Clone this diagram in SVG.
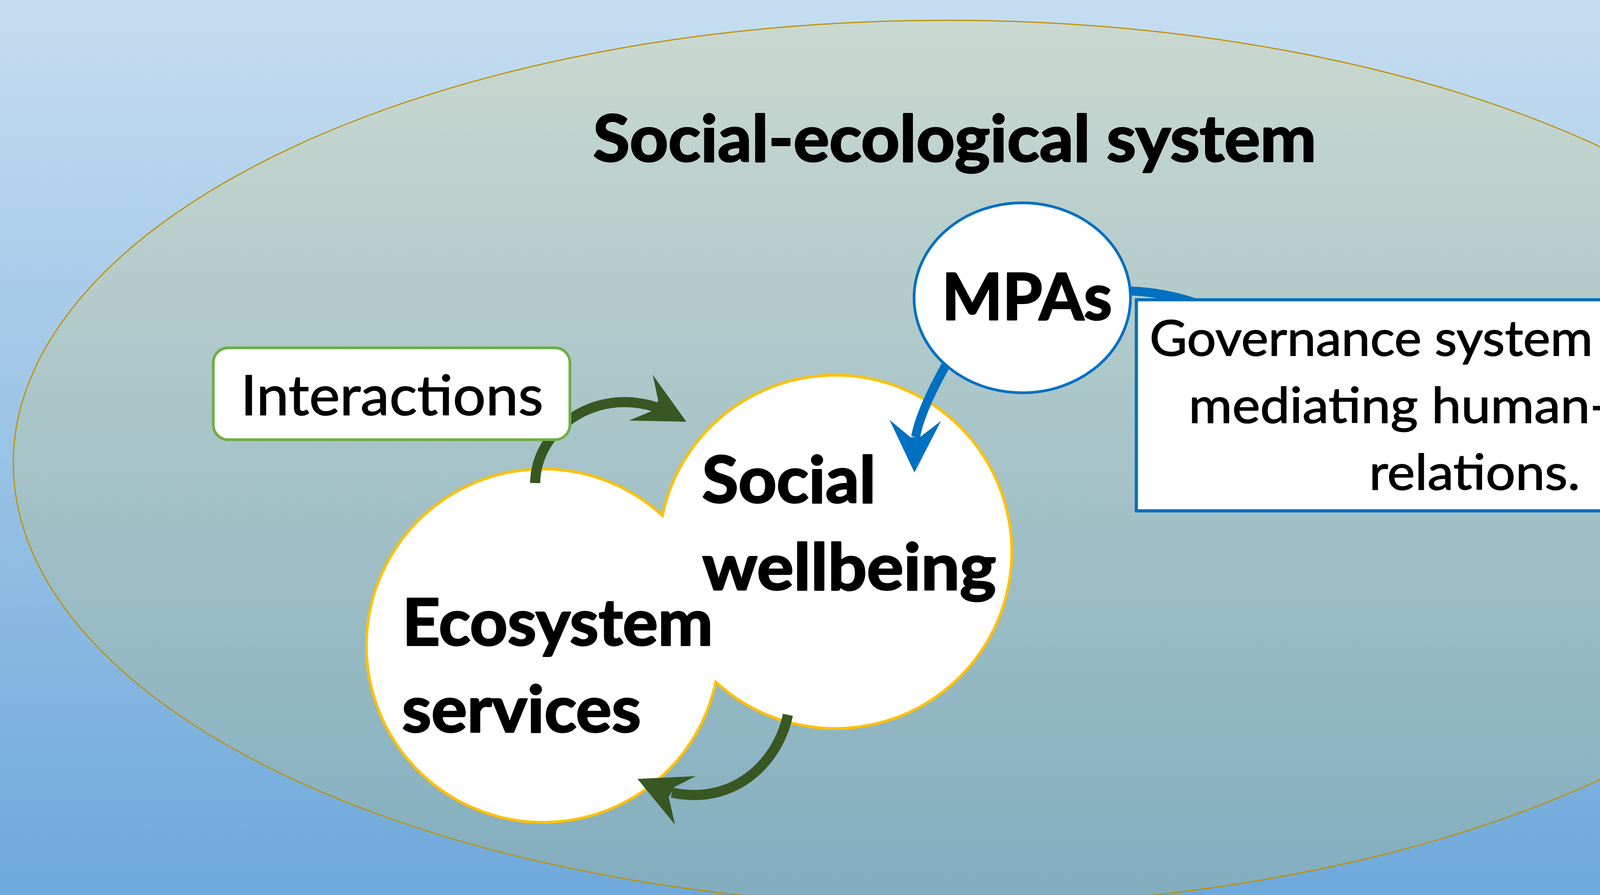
<svg xmlns="http://www.w3.org/2000/svg" width="4812" height="2290" viewBox="0 0 4812 2290">
  <defs>
    <linearGradient id="bg" x1="0" y1="0" x2="0" y2="2290" gradientUnits="userSpaceOnUse">
      <stop offset="0" stop-color="#c6ddf0"/>
      <stop offset="1" stop-color="#6ea9db"/>
    </linearGradient>
    <linearGradient id="ses" x1="0" y1="52" x2="0" y2="2318" gradientUnits="userSpaceOnUse">
      <stop offset="0" stop-color="#cad9d0"/>
      <stop offset="1" stop-color="#81adbf"/>
    </linearGradient>
    <style>
      .bold { font-family: Lato, "Open Sans", sans-serif; font-weight: 700; font-size: 165px; fill: #000; stroke: #000; stroke-width: 4; stroke-linejoin: round; }
      .reg { font-family: Lato, "Open Sans", sans-serif; font-weight: 400; fill: #000; stroke: #000; stroke-width: 2; stroke-linejoin: round; }
      .green { fill: none; stroke: #385723; stroke-width: 26; }
      .blue { fill: none; stroke: #0070c0; stroke-width: 23; }
      .greenhead { fill: #385723; }
      .bluehead { fill: #0070c0; }
    </style>
  </defs>

  <rect x="0" y="0" width="4812" height="2290" fill="url(#bg)"/>

  <g id="social-ecological-system">
    <ellipse cx="2424" cy="1185" rx="2390" ry="1133" fill="url(#ses)" stroke="#bf9000" stroke-width="3"/>
    <text class="bold" x="1518" y="413" textLength="1852" lengthAdjust="spacingAndGlyphs">Social-ecological system</text>
  </g>

  <g id="wellbeing-services-shape">
    <path d="M 1695.7 1319.1 A 452 452 0 1 1 1832.3 1744.9 A 452 452 0 1 1 1695.7 1319.1 Z" fill="#ffffff" stroke="#ffc000" stroke-width="7"/>
  </g>

  <g id="connectors">
    <path class="green" d="M 1370 1236 C 1372 1100 1520 990 1680 1042"/>
    <polygon class="greenhead" points="1671,959 1757,1079 1610,1076 1668,1052 1685,1025"/>
    <path class="green" d="M 2017 1829 C 1992 1950 1880 2062 1720 2028"/>
    <polygon class="greenhead" points="1781,1986 1632,1993 1728,2110 1712,2040 1726,2014"/>
    <path class="blue" d="M 2426 926 Q 2356 1050 2344 1118"/>
    <polygon class="bluehead" points="2277,1074 2341,1209 2409,1077 2357,1117 2331,1119"/>
    <path class="blue" d="M 2870 744 Q 2990 744 3100 790"/>
  </g>

  <g id="ecosystem-services">
    <text class="bold" x="1030" y="1651" textLength="795" lengthAdjust="spacingAndGlyphs">Ecosystem</text>
    <text class="bold" x="1029" y="1873" textLength="612" lengthAdjust="spacingAndGlyphs">services</text>
  </g>

  <g id="social-wellbeing">
    <text class="bold" x="1797" y="1286" textLength="445" lengthAdjust="spacingAndGlyphs">Social</text>
    <text class="bold" x="1798" y="1509" textLength="752" lengthAdjust="spacingAndGlyphs">wellbeing</text>
  </g>

  <g id="interactions">
    <rect x="546" y="890" width="913" height="235" rx="38" ry="38" fill="#ffffff" stroke="#70ad47" stroke-width="7"/>
    <text class="reg" x="616" y="1062" font-size="141" textLength="775" lengthAdjust="spacingAndGlyphs">Interactions</text>
  </g>

  <g id="governance">
    <rect x="2909" y="767" width="1726" height="540" fill="#ffffff" stroke="#0070c0" stroke-width="8"/>
    <text class="reg" x="3773" y="910" font-size="127" text-anchor="middle" textLength="1660" lengthAdjust="spacingAndGlyphs">Governance system of MPAs</text>
    <text class="reg" x="3774" y="1082" font-size="127" text-anchor="middle" textLength="1462" lengthAdjust="spacingAndGlyphs">mediating human-nature</text>
    <text class="reg" x="3775" y="1253" font-size="127" text-anchor="middle" textLength="540" lengthAdjust="spacingAndGlyphs">relations.</text>
  </g>

  <g id="mpas">
    <ellipse cx="2617" cy="762" rx="277" ry="243" fill="#ffffff" stroke="#0070c0" stroke-width="7"/>
    <text class="bold" x="2411" y="818" textLength="436" lengthAdjust="spacingAndGlyphs">MPAs</text>
  </g>
</svg>
